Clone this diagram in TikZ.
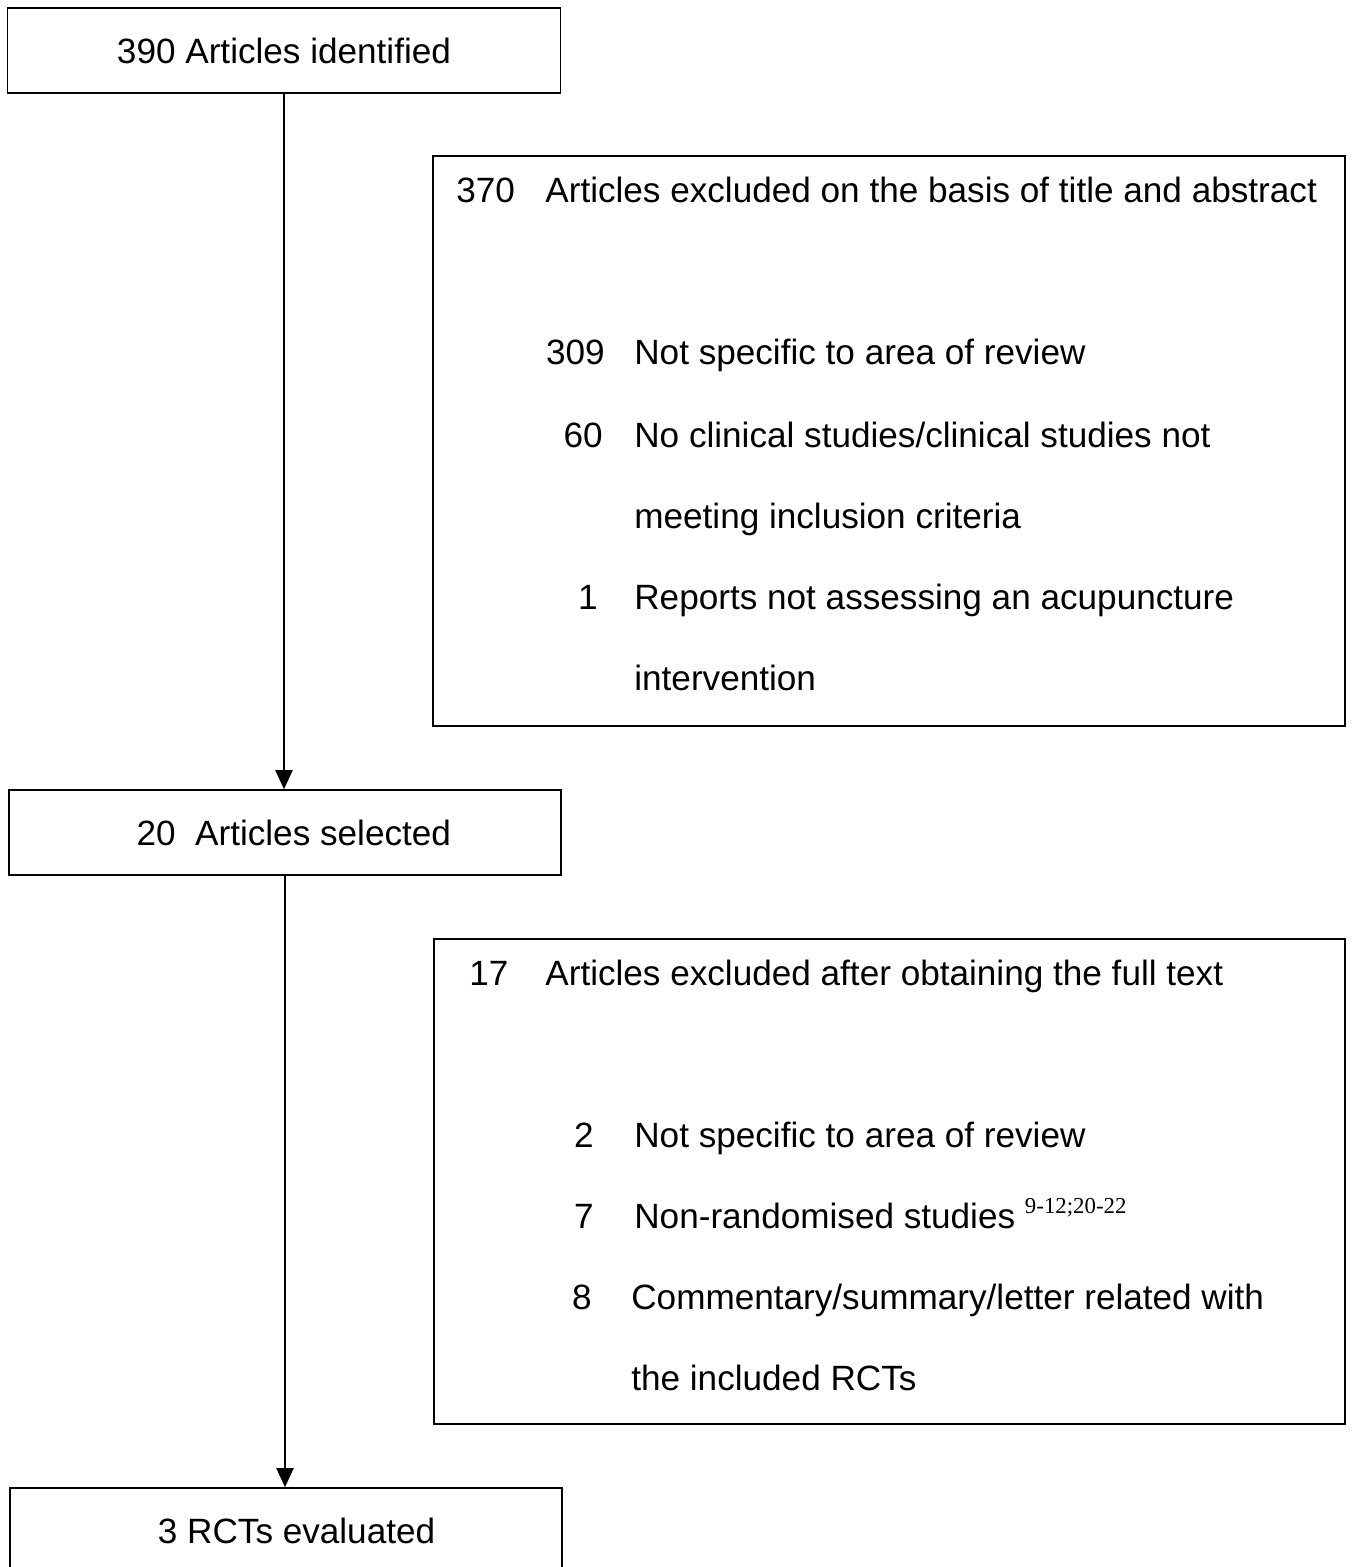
\documentclass[tikz,border=0pt]{standalone}
\usepackage{fontspec}
\setmainfont{Liberation Sans}
\newfontfamily\refsfont{Liberation Serif}
\usetikzlibrary{arrows.meta}

\begin{document}
\begin{tikzpicture}[x=0.02cm,y=-0.02cm]
\tikzstyle{every node}=[inner sep=0pt, font=\fontsize{20}{24}\selectfont]
\tikzstyle{box}=[draw, rectangle, line width=0.9pt]
\tikzstyle{num}=[anchor=base east]
\tikzstyle{txt}=[anchor=base west]
\tikzstyle{arr}=[line width=1.1pt, -{Triangle[width=0.34cm,length=0.38cm]}]
\useasboundingbox (0,0) rectangle (1352,1567);
% main column
\draw (284,50.5) node (ident) [box,minimum width=11.06cm,minimum height=1.7cm] {390 Articles identified};
\draw (285,832.5) node (sel) [box,minimum width=11.04cm,minimum height=1.7cm] {\hspace{10pt}20\ \ Articles selected};
\draw (286,1530.5) node (rcts) [box,minimum width=11.04cm,minimum height=1.7cm] {\hspace{12pt}3 RCTs evaluated};
% exclusion boxes
\draw (889,441) node (excla) [box,minimum width=18.24cm,minimum height=11.4cm] {};
\draw (889.5,1181.5) node (exclb) [box,minimum width=18.22cm,minimum height=9.7cm] {};
% first exclusion
\draw (456,203) node (na) [anchor=base west] {370};
\draw (545,203) node (ta) [txt] {Articles excluded on the basis of title and abstract};
\draw (605,365) node (na1) [num] {309};
\draw (634,365) node (ta1) [txt] {Not specific to area of review};
\draw (603,447) node (na2) [num] {60};
\draw (634,447) node (ta2) [txt] {No clinical studies/clinical studies not};
\draw (634,528) node (ta2b) [txt] {meeting inclusion criteria};
\draw (598,609) node (na3) [num] {1};
\draw (634,609) node (ta3) [txt] {Reports not assessing an acupuncture};
\draw (634,690) node (ta3b) [txt] {intervention};
% second exclusion
\draw (469,985) node (nb) [anchor=base west] {17};
\draw (545,985) node (tb) [txt] {Articles excluded after obtaining the full text};
\draw (594,1147) node (nb1) [num] {2};
\draw (634,1147) node (tb1) [txt] {Not specific to area of review};
\draw (594,1228) node (nb2) [num] {7};
\draw (634,1228) node (tb2) [txt] {Non-randomised studies \raisebox{8pt}{\refsfont\fontsize{13}{15}\selectfont 9-12;20-22}};
\draw (592,1309) node (nb3) [num] {8};
\draw (631,1309) node (tb3) [txt] {Commentary/summary/letter related with};
\draw (631,1390) node (tb3b) [txt] {the included RCTs};
% arrows
\draw[arr] (ident.south) -- (ident.south |- sel.north);
\draw[arr] (sel.south) -- (sel.south |- rcts.north);
\end{tikzpicture}
\end{document}
